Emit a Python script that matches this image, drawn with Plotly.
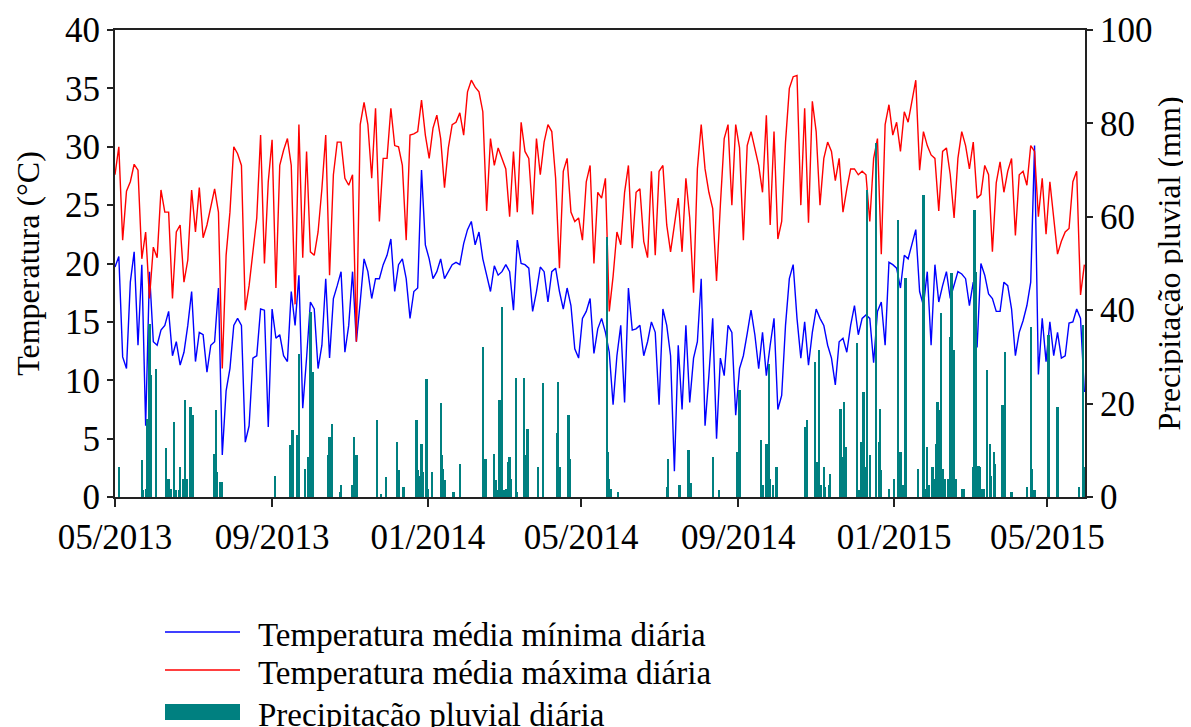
import pandas as pd
import plotly.graph_objects as go

START = "2013-05-01"
STEP_DAYS = 3

# Daily max temperature (°C), read every 3 days from the figure
tmax = [27.6, 30.0, 22.0, 26.2, 27.0, 28.5, 28.0, 20.4, 22.7, 17.0, 21.4, 20.5, 26.3, 24.4, 24.4, 17.0, 22.7, 23.3, 18.4, 20.3, 26.3, 22.7, 26.5, 22.2, 23.3,
        25.0, 26.4, 24.4, 11.0, 20.7, 24.4, 30.0, 29.4, 28.4, 16.0, 18.1, 21.0, 23.9, 31.0, 20.0, 27.0, 30.6, 17.9, 28.4, 29.7, 30.7, 28.4, 16.5, 31.9, 20.5,
        29.6, 21.0, 20.7, 22.7, 26.4, 31.0, 19.0, 27.6, 30.4, 30.4, 27.3, 26.7, 27.6, 13.3, 31.9, 33.8, 31.9, 27.3, 33.3, 23.6, 29.0, 29.0, 33.3, 30.1, 30.0,
        28.4, 22.0, 31.0, 31.1, 31.3, 34.0, 31.0, 29.0, 31.6, 32.7, 30.7, 26.5, 29.9, 31.9, 32.1, 32.9, 31.0, 34.7, 35.7, 35.1, 34.7, 33.0, 24.5, 30.7, 28.4,
        29.9, 29.0, 28.1, 24.0, 29.6, 24.4, 32.1, 29.6, 29.0, 24.2, 30.7, 27.6, 30.4, 31.9, 31.3, 27.3, 19.6, 27.9, 29.0, 24.4, 23.6, 23.9, 22.0, 27.0,
        28.4, 20.0, 26.1, 25.6, 27.3, 15.9, 18.9, 22.7, 21.6, 26.1, 28.4, 21.3, 26.1, 26.4, 21.9, 20.5, 27.9, 20.7, 27.9, 28.4, 23.3, 21.0, 23.3, 25.6, 21.0,
        27.3, 23.9, 17.5, 28.1, 31.9, 28.1, 26.1, 24.7, 18.5, 25.0, 30.7, 31.9, 25.0, 31.9, 29.9, 22.0, 30.1, 31.3, 29.9, 28.4, 26.1, 32.7, 23.3, 31.3, 22.1,
        23.6, 30.4, 35.0, 36.0, 36.1, 25.0, 33.3, 23.5, 33.9, 31.3, 25.0, 29.0, 30.4, 29.6, 27.1, 29.0, 24.4, 26.4, 28.1, 28.1, 27.6, 27.9, 27.6, 23.6, 29.0,
        30.7, 20.8, 31.9, 33.6, 31.0, 32.1, 29.6, 33.0, 32.1, 33.9, 35.7, 28.0, 31.3, 30.1, 29.3, 29.0, 24.5, 29.6, 29.9, 27.6, 23.9, 29.0, 31.3, 30.1, 28.1,
        30.4, 25.6, 25.9, 28.4, 27.6, 21.0, 26.9, 28.7, 26.1, 27.9, 29.0, 22.4, 27.6, 27.9, 26.7, 30.1, 29.6, 24.0, 27.3, 22.5, 27.0, 23.6, 20.8, 21.9, 22.7,
        23.0, 27.0, 27.9, 17.3, 19.9]

# Daily min temperature (°C), read every 3 days from the figure
tmin = [19.7, 20.6, 12.0, 11.0, 18.4, 21.0, 13.0, 19.9, 6.1, 19.3, 13.3, 13.0, 14.3, 14.7, 15.9, 12.1, 13.3, 11.3, 12.4, 14.7, 17.6, 11.6, 14.1, 13.9, 10.7,
        13.0, 13.3, 17.9, 3.6, 9.1, 11.0, 14.7, 15.3, 14.7, 4.7, 6.1, 11.9, 12.1, 16.1, 16.0, 6.0, 16.1, 13.6, 13.9, 12.1, 11.6, 17.6, 14.7, 19.0, 7.6,
        11.9, 16.7, 16.1, 11.0, 13.0, 18.7, 11.9, 17.0, 18.1, 19.3, 12.4, 14.7, 19.3, 13.3, 16.7, 20.4, 19.3, 17.0, 18.7, 18.7, 19.9, 20.7, 22.1, 17.6, 19.9,
        20.4, 18.7, 15.3, 17.6, 17.9, 28.0, 21.6, 20.4, 18.7, 19.3, 20.4, 18.7, 19.3, 19.9, 20.1, 19.9, 21.7, 22.9, 23.6, 21.6, 22.7, 20.4, 19.0, 17.6, 19.8,
        19.0, 19.3, 19.9, 19.3, 16.0, 22.0, 20.0, 19.9, 19.6, 15.9, 17.6, 19.7, 19.3, 16.7, 19.3, 19.6, 17.6, 16.1, 17.9, 16.4, 12.7, 11.9, 15.3, 15.9,
        17.0, 12.3, 14.4, 15.3, 14.1, 12.4, 7.9, 12.1, 14.7, 8.1, 17.9, 14.3, 14.4, 14.7, 12.1, 13.3, 15.0, 14.1, 7.9, 16.1, 14.7, 12.1, 2.2, 13.0, 7.5,
        14.7, 8.1, 11.9, 13.3, 18.7, 6.1, 10.4, 15.3, 5.0, 11.9, 10.4, 14.7, 14.1, 7.0, 11.0, 12.1, 14.0, 16.0, 13.9, 11.0, 14.1, 10.4, 13.0, 15.3, 7.5,
        8.7, 14.7, 18.7, 19.9, 15.3, 11.9, 15.0, 11.3, 14.1, 16.1, 15.3, 14.7, 13.0, 11.9, 9.6, 13.3, 13.6, 12.4, 14.7, 16.4, 13.9, 15.3, 15.6, 15.3, 11.5,
        15.9, 16.7, 13.0, 20.1, 19.9, 19.6, 17.9, 20.7, 20.4, 21.6, 22.9, 17.6, 16.4, 19.3, 13.0, 19.9, 16.7, 18.1, 19.3, 17.0, 18.1, 19.3, 19.1, 18.7, 16.4,
        18.4, 12.8, 20.0, 19.0, 17.4, 17.0, 15.9, 15.9, 18.4, 18.1, 16.1, 12.1, 14.1, 15.1, 16.4, 18.4, 30.1, 10.5, 15.3, 11.6, 15.0, 12.1, 14.1, 11.9, 12.1,
        14.9, 15.0, 16.1, 15.3, 9.0]

# Daily rainfall (mm): day offset from START and amount
rain_day = [3, 21, 22, 24, 25, 27, 28, 32, 40, 42, 44, 46, 48, 50, 51, 53, 55, 56, 59, 61,
            78, 79, 80, 82, 84, 125, 137, 139, 143, 144,
            149, 151, 153, 155, 167, 168, 170, 176, 177, 186, 187, 189, 205, 208, 212,
            221, 222, 226, 236, 237, 238, 240, 241, 244, 245, 248, 255, 256, 257, 258, 265, 270, 288, 290, 297,
            298, 300, 301, 303, 305, 306, 308, 309, 310, 314, 315, 320, 321, 323, 331, 335, 346, 347, 348, 355, 356,
            385, 386, 387, 388, 394, 432, 433, 442,
            449, 451, 468, 473, 487, 489, 506, 507, 510, 512, 513, 515, 518,
            540, 542, 548, 550, 551, 553, 555, 556, 559, 560, 568, 570, 571, 572, 581, 583, 584, 586, 588, 589, 591,
            596, 598, 599, 600, 606, 610, 613, 615, 617, 619, 629, 633, 635, 636, 637, 640, 641, 643, 644, 646, 647, 648,
            650, 652, 654, 655, 657, 658, 663, 665,
            672, 673, 674, 675, 676, 677, 678, 680, 683, 685, 686, 688, 689, 695, 697, 702, 714, 717, 718, 720, 731, 738,
            755, 758, 759]
rain_mm = [6.4, 7.9, 1.4, 1.8, 16.8, 37.1, 26.1, 27.5, 10.4, 3.9, 1.8, 16.1, 1.4, 1.6, 6.4, 3.9, 20.7, 3.9, 19.3, 17.5,
           9.3, 18.6, 5.4, 3.2, 3.2, 4.6, 11.1, 14.3, 13.2, 30.7,
           6.1, 8.6, 39.6, 26.8, 8.9, 12.9, 15.7, 1.1, 2.5, 2.5, 12.9, 8.9, 16.4, 0.7, 4.3,
           11.8, 5.7, 2.1, 16.4, 5.7, 4.6, 11.4, 5.4, 25.2, 1.8, 5.4, 20.2, 8.9, 6.1, 3.6, 1.1, 7.1, 32.1, 8.2, 9.3,
           3.6, 1.4, 20.7, 40.7, 1.4, 1.8, 7.5, 8.6, 3.9, 25.5, 1.1, 25.5, 8.9, 14.6, 6.4, 24.5, 13.8, 24.6, 6.4, 17.6, 8.2,
           55.7, 9.6, 3.9, 1.8, 1.1, 2.1, 8.2, 2.5,
           10.0, 2.9, 8.6, 1.4, 9.6, 22.9, 12.1, 2.5, 11.4, 28.4, 3.9, 2.5, 6.4,
           15.0, 16.4, 28.9, 7.5, 31.4, 2.5, 6.4, 2.1, 2.5, 5.0, 18.9, 8.6, 20.4, 10.7, 32.9, 1.4, 11.8, 22.5, 6.4, 65.7, 8.9,
           75.7, 11.8, 18.9, 5.7, 1.8, 3.9, 59.3, 9.6, 2.5, 46.8, 6.1, 64.6, 1.8, 10.7, 2.5, 6.4, 3.9, 11.4, 20.4, 18.6, 39.3, 6.1,
           3.9, 3.9, 34.3, 47.9, 31.4, 3.9, 1.8, 1.8,
           6.4, 61.4, 48.2, 6.4, 6.6, 6.4, 1.8, 1.8, 27.1, 11.4, 4.6, 9.6, 7.1, 19.6, 31.1, 1.1, 2.1, 36.4, 6.1, 1.4, 34.6, 19.3,
           2.1, 36.8, 6.4]

tick_dates = ["2013-05-01", "2013-09-01", "2014-01-01", "2014-05-01", "2014-09-01", "2015-01-01", "2015-05-01"]
tick_labels = ["05/2013", "09/2013", "01/2014", "05/2014", "09/2014", "01/2015", "05/2015"]

legend_labels = ["Temperatura média mínima diária", "Temperatura média máxima diária", "Precipitação pluvial diária"]

temp_dates = pd.date_range(START, periods=len(tmax), freq=f"{STEP_DAYS}D")
rain_dates = pd.Timestamp(START) + pd.to_timedelta(rain_day, unit="D")

BLUE = "#0000FF"
RED = "#FF0000"
TEAL = "#008080"
FONT = "Liberation Serif, Times New Roman, serif"
TICK_FS = 35
TITLE_FS = 32
LEG_FS = 33

# page offset of the plot div (browser default body margin)
OFF = 8

fig = go.Figure()
fig.add_trace(go.Scatter(x=temp_dates, y=tmin, mode="lines", line=dict(color=BLUE, width=1.4),
                         name=legend_labels[0], yaxis="y"))
fig.add_trace(go.Scatter(x=temp_dates, y=tmax, mode="lines", line=dict(color=RED, width=1.4),
                         name=legend_labels[1], yaxis="y"))
fig.add_trace(go.Bar(x=rain_dates, y=rain_mm, marker=dict(color=TEAL, line=dict(width=0)),
                     width=1.8 * 86400000, name=legend_labels[2], yaxis="y2"))

axis_line = dict(showline=True, linecolor="#222222", linewidth=2, showgrid=False, zeroline=False,
                 ticks="outside", tickcolor="#222222", tickwidth=2)

fig.update_layout(
    width=1191 - OFF, height=727 - OFF,
    margin=dict(l=115 - OFF, r=106, t=30 - OFF, b=230, autoexpand=False),
    paper_bgcolor="white", plot_bgcolor="white",
    font=dict(family=FONT, size=TICK_FS, color="black"),
    showlegend=False,
    bargap=0,
    xaxis=dict(**axis_line, mirror=True, ticklen=8, range=["2013-05-01", "2015-05-30 12:00"],
               tickvals=tick_dates, ticktext=tick_labels, tickfont=dict(size=TICK_FS)),
    yaxis=dict(**axis_line, ticklen=6, range=[0, 40], dtick=5, tickfont=dict(size=TICK_FS),
               title=dict(text="Temperatura (°C)", standoff=16, font=dict(size=TITLE_FS))),
    yaxis2=dict(**axis_line, ticklen=6, range=[0, 100], dtick=20, overlaying="y", side="right",
                tickfont=dict(size=TICK_FS),
                title=dict(text="Precipitação pluvial (mm)", standoff=6, font=dict(size=TITLE_FS))),
)

# Legend drawn below the plot (line samples + labels); page-pixel helpers
plot_top, plot_h, plot_l, plot_w = 30, 467, 115, 970
def py(ypx):
    return (plot_top + plot_h - ypx) / plot_h
def px(xpx):
    return (xpx - plot_l) / plot_w

leg_y_px = [632, 670, 712]
fig.add_shape(type="line", xref="paper", yref="paper", x0=px(165), x1=px(240), y0=py(632), y1=py(632),
              line=dict(color=BLUE, width=1.5))
fig.add_shape(type="line", xref="paper", yref="paper", x0=px(165), x1=px(240), y0=py(670), y1=py(670),
              line=dict(color=RED, width=1.5))
fig.add_shape(type="rect", xref="paper", yref="paper", x0=px(165), x1=px(240), y0=py(720), y1=py(704),
              fillcolor=TEAL, line=dict(width=0))
for lbl, ypx in zip(legend_labels, leg_y_px):
    fig.add_annotation(text=lbl, xref="paper", yref="paper", x=px(256), y=py(ypx + 3),
                       xanchor="left", yanchor="middle", showarrow=False,
                       font=dict(family=FONT, size=LEG_FS, color="black"))

fig.write_html("out.html")
